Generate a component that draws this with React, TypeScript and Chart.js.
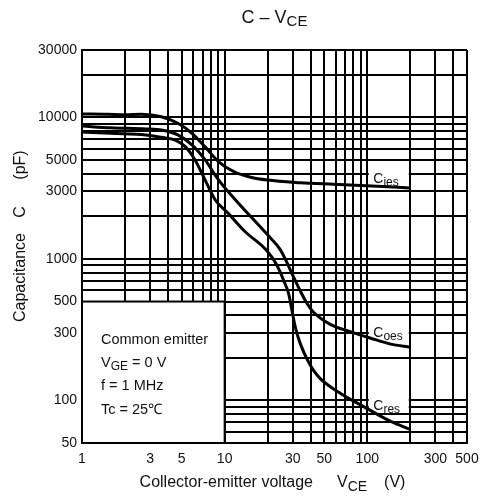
import { useEffect, useRef } from 'react';
import { Chart, registerables } from 'chart.js';

Chart.register(...registerables);

const FONT = '"Liberation Sans", Arial, Helvetica, sans-serif';

// Cies curve
const ciesV = [1, 1.5, 2, 2.6, 3.6, 4.7, 5.9, 7.3, 9.0, 11.6, 15.2, 20, 34, 58, 90, 200];
const ciesC = [10600, 10550, 10450, 10550, 10130, 9100, 7730, 6200, 4900, 4140, 3780, 3610, 3460, 3370, 3300, 3180];

// Coes curve
const coesV = [1, 1.6, 2.8, 3.6, 4.7, 5.9, 7.3, 9.0, 12.5, 20, 24.6, 27.5, 30.5, 34, 38, 42, 55, 76, 106, 146, 200];
const coesC = [8700, 8450, 8300, 8150, 7530, 6400, 5010, 3650, 2480, 1480, 1160, 930, 740, 590, 480, 420, 345, 306, 275, 250, 238];

// Cres curve
const cresV = [1, 1.6, 2.8, 3.6, 4.5, 5.3, 6.2, 7.3, 8.6, 10.6, 14, 19.5, 23, 26, 28.2, 29.8, 31.5, 34, 37.9, 42, 47, 65, 95, 146, 200];
const cresC = [7900, 7730, 7530, 7240, 6930, 6220, 5010, 3610, 2610, 2100, 1550, 1160, 920, 700, 560, 420, 320, 250, 195, 163, 142, 112, 90, 71, 62.5];

// Grid / tick values
const xGrid = [1, 2, 3, 4, 5, 6, 7, 8, 9, 10, 20, 30, 40, 50, 60, 70, 80, 90, 100, 200, 300, 400, 500];
const xLabels = [1, 3, 5, 10, 30, 50, 100, 300, 500];
const yGrid = [50, 60, 70, 80, 90, 100, 200, 300, 400, 500, 600, 700, 800, 900, 1000, 2000, 3000, 4000, 5000, 6000, 7000, 8000, 9000, 10000, 20000, 30000];
const yLabels = [50, 100, 300, 500, 1000, 3000, 5000, 10000, 30000];

// Curve labels: [main, subscript, anchor V, text baseline C, box top C, box bottom C]
const curveLabels: [string, string, number, number, number, number][] = [
  ['C', 'ies', 100, 3450, 4700, 3300],
  ['C', 'oes', 100, 282, 375, 272],
  ['C', 'res', 100, 86, 104, 83],
];

const legendLines = ['Common emitter', 'V|GE| = 0 V', 'f = 1 MHz', 'Tc = 25\u2103'];

function toPoints(v: number[], c: number[]) {
  return v.map((x, i) => ({ x, y: c[i] }));
}

function drawSub(ctx: CanvasRenderingContext2D, x: number, y: number, main: string, sub: string, size: number, subSize: number, drop: number) {
  ctx.font = `${size}px ${FONT}`;
  ctx.fillText(main, x, y);
  const w = ctx.measureText(main).width;
  ctx.font = `${subSize}px ${FONT}`;
  ctx.fillText(sub, x + w, y + drop);
  return w + ctx.measureText(sub).width;
}

const overlay = {
  id: 'overlay',
  beforeDatasetsDraw(chart: any) {
    const { ctx, scales } = chart;
    const x = scales.x, y = scales.y;
    ctx.save();
    // legend box
    const l = x.getPixelForValue(1), r = x.getPixelForValue(10);
    const t = y.getPixelForValue(500), b = y.getPixelForValue(50);
    ctx.fillStyle = '#fff';
    ctx.fillRect(l, t, r - l, b - t);
    ctx.strokeStyle = '#000';
    ctx.lineWidth = 2;
    ctx.strokeRect(l, t, r - l, b - t);
    // curve label boxes
    for (const [, , v, , top, bot] of curveLabels) {
      const x0 = x.getPixelForValue(v) + 1.5;
      const x1 = x.getPixelForValue(v * 2) - 1.5;
      const y0 = y.getPixelForValue(top);
      const y1 = y.getPixelForValue(bot);
      ctx.fillStyle = '#fff';
      ctx.fillRect(x0, y0, x1 - x0, y1 - y0);
    }
    // legend text
    ctx.fillStyle = '#111';
    ctx.textBaseline = 'alphabetic';
    ctx.textAlign = 'left';
    const lx = l + 19;
    const baselines = [344, 367, 390, 414];
    legendLines.forEach((line, i) => {
      if (line.includes('|')) {
        const [a, s, rest] = line.split('|');
        ctx.font = `14.5px ${FONT}`;
        ctx.fillText(a, lx, baselines[i]);
        let w = ctx.measureText(a).width;
        ctx.font = `12px ${FONT}`;
        ctx.fillText(s, lx + w, baselines[i] + 3);
        w += ctx.measureText(s).width;
        ctx.font = `14.5px ${FONT}`;
        ctx.fillText(rest, lx + w, baselines[i]);
      } else {
        ctx.font = `14.5px ${FONT}`;
        ctx.fillText(line, lx, baselines[i]);
      }
    });
    // curve label text
    for (const [m, s, v, c] of curveLabels) {
      const px = x.getPixelForValue(v) + 6;
      const py = y.getPixelForValue(c);
      drawSub(ctx, px, py, m, s, 14, 12, 3);
    }
    ctx.restore();
  },
  afterDraw(chart: any) {
    const { ctx, chartArea } = chart;
    ctx.save();
    ctx.fillStyle = '#111';
    ctx.textBaseline = 'alphabetic';
    ctx.textAlign = 'left';
    const cx = (chartArea.left + chartArea.right) / 2;
    // title
    ctx.font = `18px ${FONT}`;
    const tMain = 'C \u2013 V';
    const w1 = ctx.measureText(tMain).width;
    ctx.font = `15px ${FONT}`;
    const w2 = ctx.measureText('CE').width;
    drawSub(ctx, cx - (w1 + w2) / 2, 23, tMain, 'CE', 18, 15, 3);
    // x title
    ctx.font = `16px ${FONT}`;
    const xa = 'Collector-emitter voltage';
    const xv = 'V';
    const xb = '(V)';
    const gap1 = 24, gap2 = 17;
    const wa = ctx.measureText(xa).width;
    const wv = ctx.measureText(xv).width;
    const wb = ctx.measureText(xb).width;
    ctx.font = `14px ${FONT}`;
    const ws = ctx.measureText('CE').width;
    const total = wa + gap1 + wv + ws + gap2 + wb;
    const sx = cx - 2 - total / 2;
    ctx.font = `16px ${FONT}`;
    ctx.fillText(xa, sx, 487);
    drawSub(ctx, sx + wa + gap1, 487, xv, 'CE', 16, 14, 4);
    ctx.font = `16px ${FONT}`;
    ctx.fillText(xb, sx + wa + gap1 + wv + ws + gap2, 487);
    // y title
    ctx.translate(25, 322);
    ctx.rotate(-Math.PI / 2);
    ctx.font = `16px ${FONT}`;
    ctx.fillText('Capacitance', 0, 0);
    const cw = ctx.measureText('C').width;
    ctx.fillText('C', 110 - cw / 2, 0);
    const pw = ctx.measureText('(pF)').width;
    ctx.fillText('(pF)', 157 - pw / 2, 0);
    ctx.restore();
  },
};

export default function App() {
  const ref = useRef<HTMLCanvasElement | null>(null);
  useEffect(() => {
    if (!ref.current) return;
    const lineDs = (label: string, v: number[], c: number[]) => ({
      label,
      data: toPoints(v, c),
      borderColor: '#000',
      backgroundColor: '#000',
      borderWidth: 3,
      pointRadius: 0,
      fill: false,
      cubicInterpolationMode: 'monotone' as const,
    });
    const chart = new Chart(ref.current, {
      type: 'line',
      data: {
        datasets: [
          lineDs('Cies', ciesV, ciesC),
          lineDs('Coes', coesV, coesC),
          lineDs('Cres', cresV, cresC),
        ],
      },
      options: {
        animation: false,
        responsive: false,
        devicePixelRatio: 1,
        layout: { padding: { left: 0, top: 50, right: 13, bottom: 0 } },
        plugins: { legend: { display: false }, tooltip: { enabled: false }, title: { display: false } },
        scales: {
          x: {
            type: 'logarithmic',
            min: 1,
            max: 500,
            afterBuildTicks: (s: any) => { s.ticks = xGrid.map((value) => ({ value })); },
            afterFit: (s: any) => { s.height = 58; s.paddingLeft = 0; s.paddingRight = 0; },
            grid: { color: '#000', lineWidth: 2, drawTicks: false },
            border: { color: '#000', width: 2 },
            ticks: {
              autoSkip: false,
              maxRotation: 0,
              padding: 8,
              color: '#111',
              font: { family: FONT, size: 14 },
              callback: (v: any) => (xLabels.includes(Number(v)) ? String(v) : ''),
            },
          },
          y: {
            type: 'logarithmic',
            min: 50,
            max: 30000,
            afterBuildTicks: (s: any) => { s.ticks = yGrid.map((value) => ({ value })); },
            afterFit: (s: any) => { s.width = 82; s.paddingTop = 0; s.paddingBottom = 0; },
            grid: { color: '#000', lineWidth: 2, drawTicks: false },
            border: { color: '#000', width: 2 },
            ticks: {
              autoSkip: false,
              padding: 5,
              color: '#111',
              font: { family: FONT, size: 14 },
              callback: (v: any) => (yLabels.includes(Number(v)) ? String(v) : ''),
            },
          },
        },
      },
      plugins: [overlay],
    });
    return () => chart.destroy();
  }, []);
  return (
    <div style={{ position: 'absolute', left: 0, top: 0, width: 480, height: 501, background: '#fff' }}>
      <canvas ref={ref} width={480} height={501} style={{ display: 'block' }} />
    </div>
  );
}
